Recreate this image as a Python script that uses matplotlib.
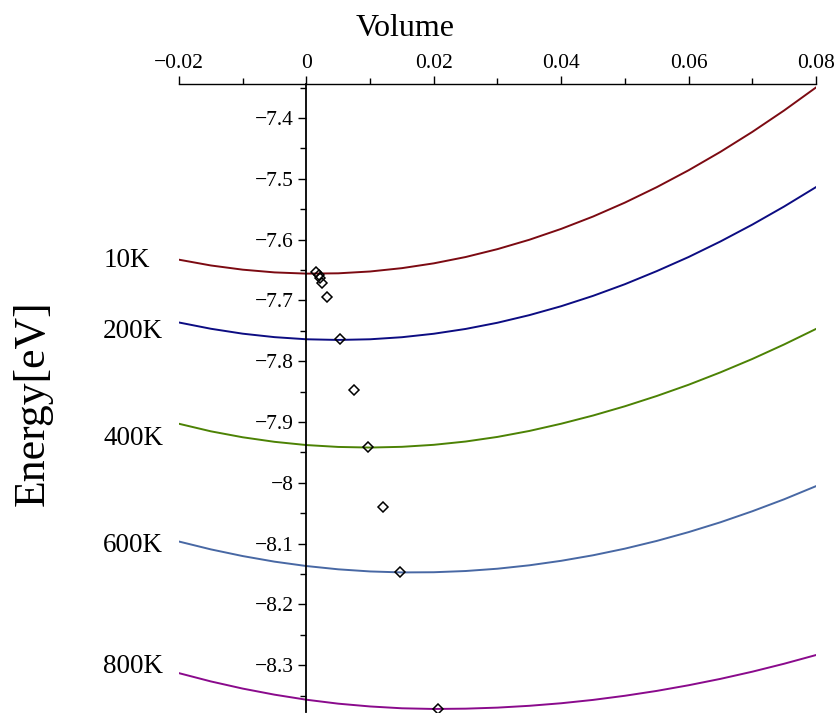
import matplotlib
matplotlib.use('Agg')
import matplotlib.pyplot as plt
from matplotlib.ticker import FixedLocator, FuncFormatter

plt.rcParams['font.family'] = ['Liberation Serif', 'DejaVu Serif']

# volume strain grid where the curves were read
volume = [-0.02, -0.015, -0.01, -0.005, 0.0, 0.005, 0.01, 0.015, 0.02, 0.025, 0.03,
          0.035, 0.04, 0.045, 0.05, 0.055, 0.06, 0.065, 0.07, 0.075, 0.08]

# energy curves per temperature
e_10k = [-7.6330, -7.6425, -7.6494, -7.6539, -7.6559, -7.6554, -7.6524, -7.6469, -7.6390,
         -7.6286, -7.6156, -7.6002, -7.5823, -7.5620, -7.5391, -7.5137, -7.4859, -7.4556,
         -7.4228, -7.3875, -7.3497]
e_200k = [-7.7363, -7.7466, -7.7547, -7.7604, -7.7639, -7.7650, -7.7639, -7.7605, -7.7548,
          -7.7469, -7.7367, -7.7242, -7.7095, -7.6925, -7.6733, -7.6518, -7.6286, -7.6030,
          -7.5753, -7.5455, -7.5136]
e_400k = [-7.9029, -7.9153, -7.9251, -7.9326, -7.9379, -7.9410, -7.9420, -7.9408, -7.9375,
          -7.9321, -7.9245, -7.9147, -7.9028, -7.8893, -7.8741, -7.8572, -7.8387, -7.8183,
          -7.7963, -7.7724, -7.7469]
e_600k = [-8.0966, -8.1095, -8.1205, -8.1297, -8.1369, -8.1423, -8.1458, -8.1474, -8.1471,
          -8.1451, -8.1413, -8.1357, -8.1283, -8.1192, -8.1083, -8.0956, -8.0811, -8.0649,
          -8.0468, -8.0271, -8.0055]
e_800k = [-8.3131, -8.3267, -8.3385, -8.3485, -8.3568, -8.3633, -8.3679, -8.3709, -8.3720,
          -8.3715, -8.3698, -8.3668, -8.3626, -8.3571, -8.3503, -8.3423, -8.3330, -8.3225,
          -8.3107, -8.2976, -8.2833]

temp_labels = ['10K', '200K', '400K', '600K', '800K']
label_y = [-7.6456, -7.7624, -7.938, -8.1143, -8.3133]
colors = ['#7c0a12', '#0c0c82', '#4c8204', '#4868a4', '#8a0a8c']

# minimum positions (diamonds)
min_v = [0.00157, 0.0019, 0.0022, 0.0025, 0.0033, 0.0053, 0.0074, 0.0097, 0.0121, 0.0147, 0.0207]
min_e = [-7.653, -7.658, -7.663, -7.671, -7.694, -7.763, -7.847, -7.941, -8.040, -8.147, -8.372]

fig = plt.figure(figsize=(8.37, 7.13), dpi=100)
ax = fig.add_axes([179 / 837, 1 / 713, 637 / 837, 628 / 713])

for e, c in zip([e_10k, e_200k, e_400k, e_600k, e_800k], colors):
    ax.plot(volume, e, color=c, lw=1.4, zorder=2)

ax.plot(min_v, min_e, linestyle='none', marker='D', markersize=5.5,
        mfc='none', mec='black', mew=1.1, zorder=4)

for lab, y in zip(temp_labels, label_y):
    ax.text(-0.0319, y, lab, fontsize=19.5, ha='left', va='baseline', clip_on=False)

ax.set_xlim(-0.02, 0.08)
ax.set_ylim(-8.377, -7.344)

# maple style axes: x axis on top, y axis through zero
ax.spines['right'].set_visible(False)
ax.spines['bottom'].set_visible(False)
ax.spines['left'].set_position(('data', 0))
ax.spines['left'].set_linewidth(1.3)
ax.spines['top'].set_linewidth(1.0)
ax.xaxis.tick_top()

ax.xaxis.set_major_locator(FixedLocator([-0.02, 0.0, 0.02, 0.04, 0.06, 0.08]))
ax.xaxis.set_minor_locator(FixedLocator([-0.01, 0.01, 0.03, 0.05, 0.07]))
ax.yaxis.set_major_locator(FixedLocator([-8.3, -8.2, -8.1, -8.0, -7.9, -7.8, -7.7, -7.6, -7.5, -7.4]))
ax.yaxis.set_minor_locator(FixedLocator([-8.35, -8.25, -8.15, -8.05, -7.95, -7.85, -7.75,
                                         -7.65, -7.55, -7.45, -7.35]))


def fmt(v, pos):
    s = '%g' % round(v, 3)
    return s.replace('-', '\u2212')


ax.xaxis.set_major_formatter(FuncFormatter(fmt))
ax.yaxis.set_major_formatter(FuncFormatter(fmt))

ax.tick_params(axis='x', which='major', direction='out', length=6, width=1, labelsize=15.5, pad=2)
ax.tick_params(axis='x', which='minor', direction='out', length=4, width=1)
ax.tick_params(axis='y', which='major', direction='out', length=6, width=1, labelsize=15.5, pad=3)
ax.tick_params(axis='y', which='minor', direction='out', length=4, width=1)

fig.text(405 / 837, 1 - 29 / 713, 'Volume', fontsize=23, ha='center', va='center')
fig.text(33 / 837, 1 - 403 / 713, 'Energy[eV]', fontsize=31.5, rotation=90,
         ha='center', va='center')

fig.savefig('out.png', dpi=100)
